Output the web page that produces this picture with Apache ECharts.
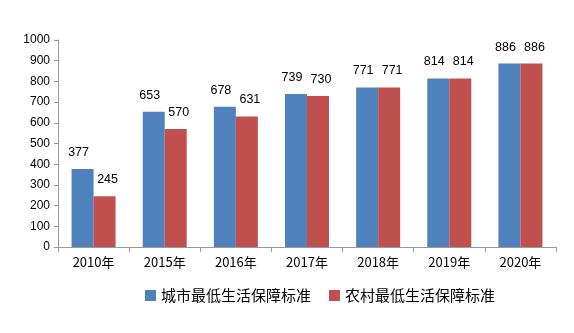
<!DOCTYPE html>
<html><head><meta charset="utf-8">
<script src="https://cdn.jsdelivr.net/npm/echarts@6/dist/echarts.min.js"></script>
<style>html,body{margin:0;padding:0;background:#fff}#c{width:574px;height:333px}</style>
</head><body><div id="c"></div>
<script>
const categories = ['2010年','2015年','2016年','2017年','2018年','2019年','2020年'];
const urban = [377,653,678,739,771,814,886];
const rural = [245,570,631,730,771,814,886];
const seriesNames = ['城市最低生活保障标准','农村最低生活保障标准'];
const font = '"Noto Sans CJK SC", "DejaVu Sans", sans-serif';
const numFont = '"Liberation Sans", Arial, sans-serif';
const chart = echarts.init(document.getElementById('c'));
chart.setOption({
  animation:false,
  textStyle:{fontFamily:font},
  grid:{left:58,right:18,top:40,bottom:86},
  legend:{bottom:25,left:140,itemWidth:11,itemHeight:11,itemGap:18,icon:'rect',
    textStyle:{fontSize:15,color:'#000',fontFamily:font},data:seriesNames},
  xAxis:{type:'category',data:categories,
    axisLine:{lineStyle:{color:'#999'}},
    axisTick:{show:true,length:5,lineStyle:{color:'#999'}},
    axisLabel:{color:'#000',fontSize:13,margin:9,fontFamily:font}},
  yAxis:{type:'value',min:0,max:1000,interval:100,
    axisLine:{show:true,lineStyle:{color:'#999'}},
    axisTick:{show:true,length:4,lineStyle:{color:'#999'}},
    splitLine:{show:false},
    axisLabel:{color:'#000',fontSize:12,margin:8,fontFamily:numFont,formatter:v=>String(v)}},
  series:[
    {name:seriesNames[0],type:'bar',data:urban,barWidth:22,barGap:'0%',
     itemStyle:{color:'#4F81BD'},
     label:{show:true,position:'top',distance:10,offset:[-4,0],color:'#000',fontSize:12.5,fontFamily:numFont}},
    {name:seriesNames[1],type:'bar',data:rural,barWidth:22,
     itemStyle:{color:'#C0504D'},
     label:{show:true,position:'top',distance:10,offset:[3,0],color:'#000',fontSize:12.5,fontFamily:numFont}}
  ]
});
</script></body></html>
